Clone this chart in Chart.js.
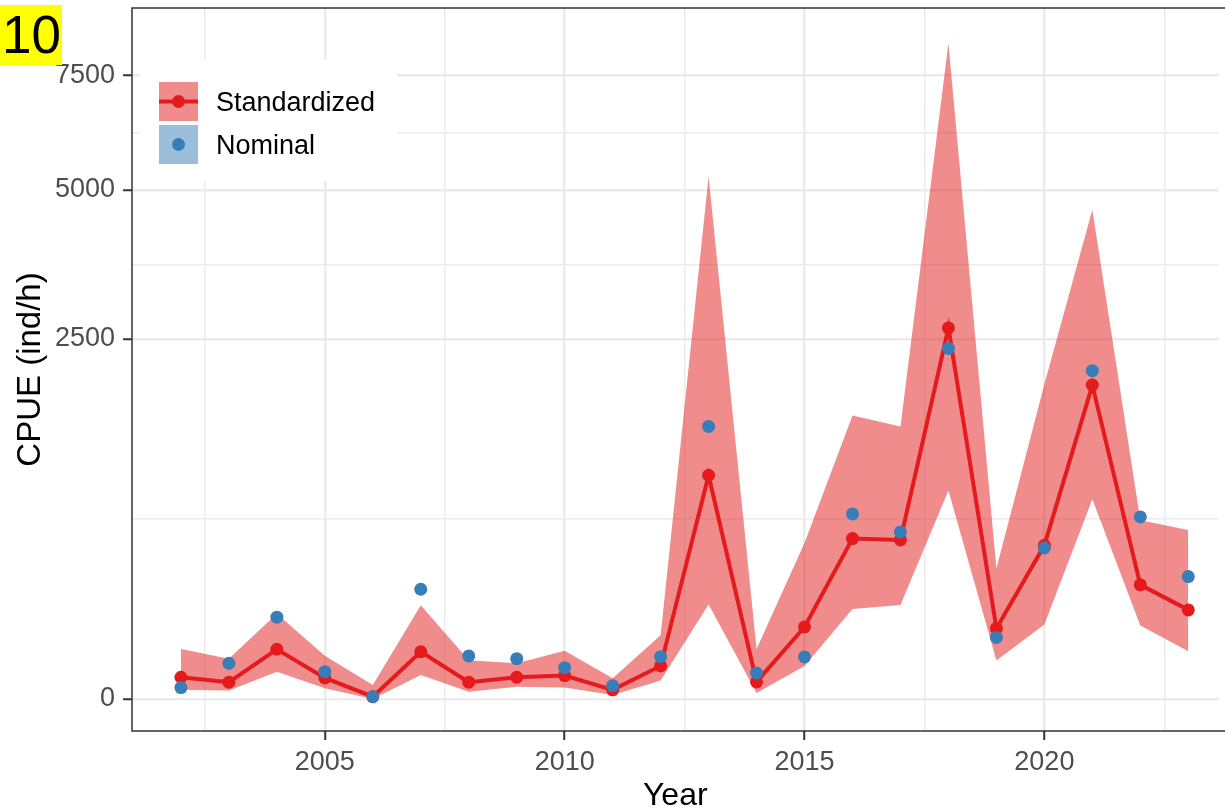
<!DOCTYPE html>
<html>
<head>
<meta charset="utf-8">
<script src="https://cdn.jsdelivr.net/npm/chart.js@4/dist/chart.umd.min.js"></script>
<style>
  html, body { margin: 0; padding: 0; background: #fff; }
  #wrap { position: relative; width: 1225px; height: 809px; }
</style>
</head>
<body>
<div id="wrap"><canvas id="cpueChart" width="1225" height="809"></canvas></div>
<script>
// ── Data ──────────────────────────────────────────────────────
const years        = [2002, 2003, 2004, 2005, 2006, 2007, 2008, 2009, 2010, 2011, 2012,
                      2013, 2014, 2015, 2016, 2017, 2018, 2019, 2020, 2021, 2022, 2023];
const standardized = [9.1, 5.4, 47.6, 8.5, 0.1, 43, 5.4, 9.1, 10.5, 1.6, 21,
                      965, 5.6, 100, 496, 488, 2655, 96, 455, 1900, 251, 153];
const nominal      = [2.5, 24.6, 129, 14.4, 0.1, 232, 35.7, 31.3, 18.9, 3.4, 34.5,
                      1432, 13, 34, 660, 538, 2370, 73, 440, 2078, 639, 289];
const ciLower      = [1.6, 1.4, 14.4, 2.2, 0, 11, 1.0, 2.9, 2.5, 0.3, 6.5,
                      172, 0.7, 21, 156, 170, 838, 28.4, 107, 770, 104, 44];
const ciUpper      = [48.2, 31, 140, 36, 3.8, 169, 29, 24.6, 45, 8.3, 78,
                      5270, 48, 469, 1550, 1432, 8300, 328, 1910, 4613, 616, 551];

// tick positions (ggplot sqrt scale: minor breaks sit halfway in sqrt space)
const yMajorTicks = [0, 2500, 5000, 7500];
const yMinorTicks = [625, 3643, 6187];
const xMajorTicks = [2005, 2010, 2015, 2020];
const xMinorTicks = [2002.5, 2007.5, 2012.5, 2017.5, 2022.5];

// axis limits (y limits given in sqrt units, like ggplot's expanded range)
const xMin = 2000.98, xMax = 2023.63;
const sqrtMin = -4.45, sqrtMax = 95.95;

const RED  = '#E41A1C';
const BLUE = '#377EB8';
const FONT = '"Liberation Sans", Arial, Helvetica, sans-serif';

// ── Square-root scale ─────────────────────────────────────────
class SqrtScale extends Chart.LinearScale {
  getPixelForValue(value) {
    if (value === null || value === undefined) return NaN;
    const t = Math.sqrt(Math.max(value, 0));
    return this.getPixelForDecimal((t - sqrtMin) / (sqrtMax - sqrtMin));
  }
  getValueForPixel(pixel) {
    const t = sqrtMin + this.getDecimalForPixel(pixel) * (sqrtMax - sqrtMin);
    return t < 0 ? 0 : t * t;
  }
}
SqrtScale.id = 'sqrt';
SqrtScale.defaults = Chart.LinearScale.defaults;
Chart.register(SqrtScale);

function tickList(major, minor) {
  return major.map(v => ({ value: v, minor: false }))
    .concat(minor.map(v => ({ value: v, minor: true })))
    .sort((a, b) => a.value - b.value);
}

// no extra room for edge labels: panel spans the full area like ggplot
function fixSize(prop, size) {
  return s => {
    s[prop] = size;
    s.paddingTop = 0; s.paddingBottom = 0;
    s.paddingLeft = 0; s.paddingRight = 0;
  };
}

const gridColor = '#EBEBEB';
const isMinor = ctx => ctx.tick && ctx.tick.minor;

// ── Panel border, legend, panel tag ───────────────────────────
const panelDecor = {
  id: 'panelDecor',
  afterDraw(chart) {
    const ctx = chart.ctx;
    const a = chart.chartArea;
    ctx.save();

    // panel border (right side runs off the picture)
    ctx.strokeStyle = '#333333';
    ctx.lineWidth = 1.5;
    ctx.strokeRect(a.left, a.top, a.right - a.left + 40, a.bottom - a.top);

    // legend background
    ctx.fillStyle = '#FFFFFF';
    ctx.fillRect(140, 60, 257, 121);

    // Standardized key
    ctx.fillStyle = 'rgba(228,26,28,0.5)';
    ctx.fillRect(159, 82, 39, 39);
    ctx.strokeStyle = RED;
    ctx.lineWidth = 4;
    ctx.beginPath();
    ctx.moveTo(159, 101.5);
    ctx.lineTo(198, 101.5);
    ctx.stroke();
    ctx.fillStyle = RED;
    ctx.beginPath();
    ctx.arc(178.5, 101.5, 6.5, 0, Math.PI * 2);
    ctx.fill();

    // Nominal key
    ctx.fillStyle = 'rgba(55,126,184,0.5)';
    ctx.fillRect(159, 125, 39, 39);
    ctx.fillStyle = BLUE;
    ctx.beginPath();
    ctx.arc(178.5, 144.5, 6.5, 0, Math.PI * 2);
    ctx.fill();

    ctx.fillStyle = '#000000';
    ctx.font = '27px ' + FONT;
    ctx.textAlign = 'left';
    ctx.textBaseline = 'alphabetic';
    ctx.fillText('Standardized', 216, 111);
    ctx.fillText('Nominal', 216, 154);

    // panel tag "10"
    ctx.fillStyle = '#FFFF00';
    ctx.fillRect(0, 5, 62, 60);
    ctx.fillStyle = '#000000';
    ctx.font = '53px ' + FONT;
    ctx.fillText('10', 2, 53);

    ctx.restore();
  }
};

// ── Chart ─────────────────────────────────────────────────────
new Chart(document.getElementById('cpueChart'), {
  type: 'line',
  data: {
    labels: years,
    datasets: [
      {
        label: 'lower',
        data: years.map((y, i) => ({ x: y, y: ciLower[i] })),
        borderWidth: 0,
        pointRadius: 0,
        fill: false,
        order: 3
      },
      {
        label: 'upper',
        data: years.map((y, i) => ({ x: y, y: ciUpper[i] })),
        borderWidth: 0,
        pointRadius: 0,
        backgroundColor: 'rgba(228,26,28,0.5)',
        fill: '-1',
        order: 2
      },
      {
        label: 'Standardized',
        data: years.map((y, i) => ({ x: y, y: standardized[i] })),
        borderColor: RED,
        backgroundColor: RED,
        borderWidth: 4,
        pointRadius: 6.5,
        pointBorderWidth: 0,
        pointBackgroundColor: RED,
        fill: false,
        tension: 0,
        order: 1
      },
      {
        label: 'Nominal',
        data: years.map((y, i) => ({ x: y, y: nominal[i] })),
        showLine: false,
        pointRadius: 6.5,
        pointBorderWidth: 0,
        pointBackgroundColor: BLUE,
        fill: false,
        order: 0
      }
    ]
  },
  options: {
    responsive: false,
    animation: false,
    devicePixelRatio: 1,
    layout: { padding: { top: 8, left: 0, right: 0, bottom: 0 } },
    plugins: {
      legend: { display: false },
      tooltip: { enabled: false }
    },
    scales: {
      x: {
        type: 'linear',
        min: xMin,
        max: xMax,
        afterBuildTicks: s => { s.ticks = tickList(xMajorTicks, xMinorTicks); },
        afterFit: fixSize('height', 78),
        border: { display: false },
        grid: {
          color: gridColor,
          lineWidth: ctx => isMinor(ctx) ? 1.5 : 2.5,
          tickColor: ctx => isMinor(ctx) ? 'rgba(0,0,0,0)' : '#333333',
          tickWidth: 2,
          tickLength: 9
        },
        ticks: {
          autoSkip: false,
          maxRotation: 0,
          padding: 6,
          color: '#4D4D4D',
          font: { family: FONT, size: 27 },
          callback: (v, i, ticks) => ticks[i].minor ? '' : String(v)
        },
        title: {
          display: true,
          text: 'Year',
          color: '#000000',
          font: { family: FONT, size: 32 },
          padding: { top: 0, bottom: -6 }
        }
      },
      y: {
        type: 'sqrt',
        min: 0,
        max: 9300,
        afterBuildTicks: s => { s.ticks = tickList(yMajorTicks, yMinorTicks); },
        afterFit: fixSize('width', 132),
        border: { display: false },
        grid: {
          color: gridColor,
          lineWidth: ctx => isMinor(ctx) ? 1.5 : 2.5,
          tickColor: ctx => isMinor(ctx) ? 'rgba(0,0,0,0)' : '#333333',
          tickWidth: 2,
          tickLength: 9
        },
        ticks: {
          autoSkip: false,
          padding: 8,
          color: '#4D4D4D',
          font: { family: FONT, size: 27 },
          callback: (v, i, ticks) => ticks[i].minor ? '' : String(v)
        },
        title: {
          display: true,
          text: 'CPUE (ind/h)',
          color: '#000000',
          font: { family: FONT, size: 33 },
          padding: { top: 11, bottom: 0 }
        }
      }
    }
  },
  plugins: [panelDecor]
});
</script>
</body>
</html>
